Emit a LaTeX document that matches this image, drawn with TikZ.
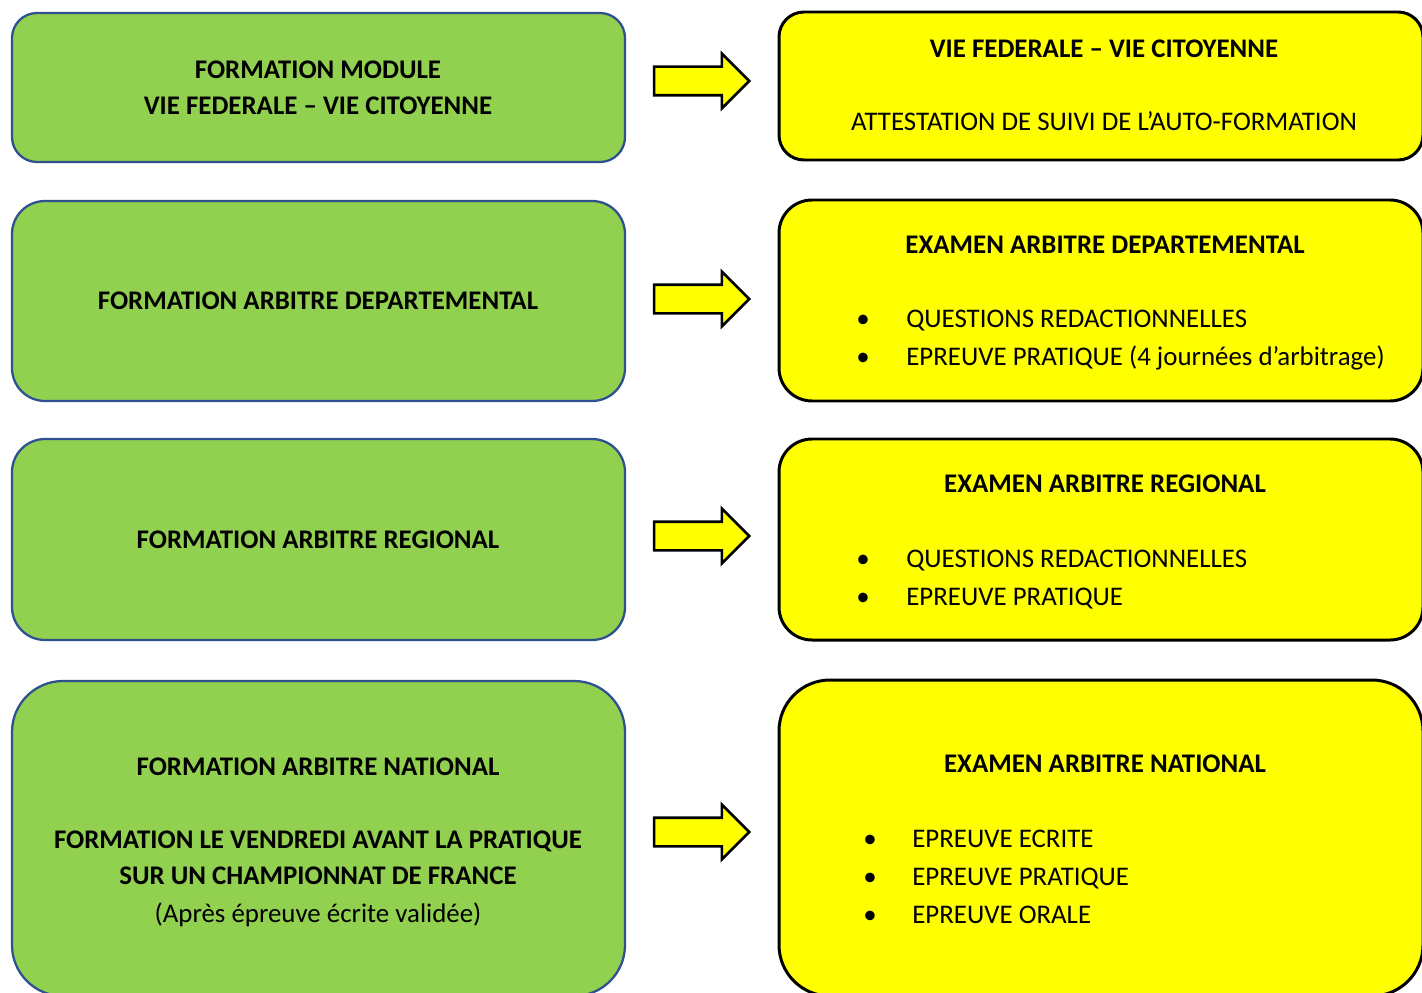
\documentclass[tikz,border=0pt]{standalone}
\usepackage{fontspec}
\setmainfont{Carlito}
\usepackage{xcolor}
\usepackage{tikz}
\usetikzlibrary{shapes.arrows}
\definecolor{vert}{HTML}{92D050}
\definecolor{bordbleu}{HTML}{2F528F}
\definecolor{jaune}{HTML}{FFFF00}
\tikzstyle{formation} = [rectangle, minimum width=613*0.02cm, fill=vert, draw=bordbleu, line width=1.3pt, inner sep=0pt]
\tikzstyle{examen} = [rectangle, minimum width=644*0.02cm, fill=jaune, draw=black, line width=1.7pt, inner sep=0pt]
\tikzstyle{fleche} = [single arrow, single arrow head extend=13*0.02cm, minimum width=52*0.02cm, minimum height=95*0.02cm, inner xsep=0pt, inner ysep=13*0.02cm, fill=jaune, draw=black, line width=1.5pt, anchor=tip]
\tikzstyle{titre} = [anchor=base, inner sep=0pt, font=\fontsize{15.3}{18}\selectfont\bfseries]
\tikzstyle{ligne} = [anchor=base, inner sep=0pt, font=\fontsize{15.3}{18}\selectfont]
\tikzstyle{puce} = [anchor=base west, inner sep=0pt, font=\fontsize{15.3}{18}\selectfont]

\begin{document}
\begin{tikzpicture}[x=0.02cm, y=-0.02cm]
   \useasboundingbox (0,0) rectangle (1422,993);
   \clip (0,0) rectangle (1422,993);
   % formations (gauche)
   \node (g1) [formation, minimum height=149*0.02cm, rounded corners=0.5cm] at (318.5,87.5) {};
   \node (g2) [formation, minimum height=200*0.02cm, rounded corners=0.66cm] at (318.5,301) {};
   \node (g3) [formation, minimum height=201*0.02cm, rounded corners=0.66cm] at (318.5,539.5) {};
   \node (g4) [formation, minimum height=315*0.02cm, rounded corners=1.02cm] at (318.5,838.5) {};
   % examens (droite)
   \node (e1) [examen, minimum height=148*0.02cm, rounded corners=0.5cm] at (1101,86) {};
   \node (e2) [examen, minimum height=201*0.02cm, rounded corners=0.66cm] at (1101,300.5) {};
   \node (e3) [examen, minimum height=201*0.02cm, rounded corners=0.66cm] at (1101,539.5) {};
   \node (e4) [examen, minimum height=316*0.02cm, rounded corners=1.02cm] at (1101,838) {};
   % fleches
   \node (f1) [fleche] at (751,81) {};
   \node (f2) [fleche] at (751,299) {};
   \node (f3) [fleche] at (751,536) {};
   \node (f4) [fleche] at (751,832) {};
   % textes gauche
   \node (g1a) [titre] at (318,78.5) {FORMATION MODULE};
   \node (g1b) [titre] at (318,114.5) {VIE FEDERALE – VIE CITOYENNE};
   \node (g2a) [titre] at (318,309.5) {FORMATION ARBITRE DEPARTEMENTAL};
   \node (g3a) [titre] at (318,548.5) {FORMATION ARBITRE REGIONAL};
   \node (g4a) [titre] at (318,775.5) {FORMATION ARBITRE NATIONAL};
   \node (g4b) [titre] at (318,848.5) {FORMATION LE VENDREDI AVANT LA PRATIQUE};
   \node (g4c) [titre] at (318,884.5) {SUR UN CHAMPIONNAT DE FRANCE};
   \node (g4d) [ligne] at (318,922) {(Après épreuve écrite validée)};
   % textes droite
   \node (e1a) [titre] at (1104,57.5) {VIE FEDERALE – VIE CITOYENNE};
   \node (e1b) [ligne] at (1104,130.5) {ATTESTATION DE SUIVI DE L’AUTO-FORMATION};
   \node (e2a) [titre] at (1105,253.5) {EXAMEN ARBITRE DEPARTEMENTAL};
   \node (e2b) [puce] at (856,327.5) {\makebox[1cm][l]{•}QUESTIONS REDACTIONNELLES};
   \node (e2c) [puce] at (856,365.5) {\makebox[1cm][l]{•}EPREUVE PRATIQUE (4 journées d’arbitrage)};
   \node (e3a) [titre] at (1105,492.5) {EXAMEN ARBITRE REGIONAL};
   \node (e3b) [puce] at (856,567.5) {\makebox[1cm][l]{•}QUESTIONS REDACTIONNELLES};
   \node (e3c) [puce] at (856,605.5) {\makebox[1cm][l]{•}EPREUVE PRATIQUE};
   \node (e4a) [titre] at (1105,772.5) {EXAMEN ARBITRE NATIONAL};
   \node (e4b) [puce] at (863,847.5) {\makebox[0.98cm][l]{•}EPREUVE ECRITE};
   \node (e4c) [puce] at (863,885.5) {\makebox[0.98cm][l]{•}EPREUVE PRATIQUE};
   \node (e4d) [puce] at (863,923.5) {\makebox[0.98cm][l]{•}EPREUVE ORALE};
\end{tikzpicture}
\end{document}
